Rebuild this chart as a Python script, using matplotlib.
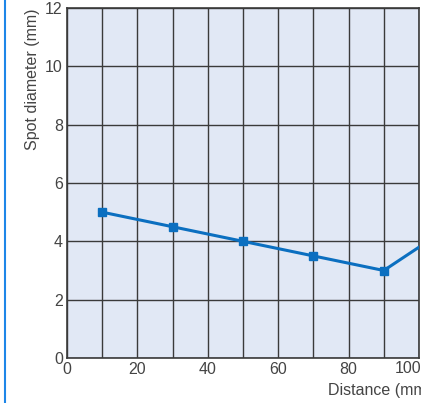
import matplotlib
matplotlib.use("Agg")
import matplotlib.pyplot as plt
from matplotlib.lines import Line2D

distance = [10, 30, 50, 70, 90, 110]
spot = [5.0, 4.5, 4.0, 3.5, 3.0, 4.6]
x_ticks = [0, 20, 40, 60, 80, 100]
y_ticks = [0, 2, 4, 6, 8, 10, 12]

plt.rcParams['font.family'] = ['Liberation Sans', 'DejaVu Sans']
W, H = 421, 403
fig = plt.figure(figsize=(W/100, H/100), dpi=100)
ax = fig.add_axes([67/W, 1-358/H, (419-67)/W, (358-8)/H])
ax.set_facecolor('#e1e8f5')
ax.set_xlim(0, 100)
ax.set_ylim(0, 12)
ax.set_xticks(x_ticks)
ax.set_xticklabels([str(v) for v in x_ticks[:-1]] + [''])
ax.set_xticks(range(0, 101, 10), minor=True)
ax.set_yticks(y_ticks)
ax.grid(True, which='both', color='#3a3a3a', linewidth=1.0)
ax.set_axisbelow(True)
ax.tick_params(which='both', length=0, labelsize=11.5, colors='#444444', pad=3)
for s in ax.spines.values():
    s.set_color('#3a3a3a')
    s.set_linewidth(1.2)
ax.annotate(str(x_ticks[-1]), xy=(x_ticks[-1], 0), xycoords=('data', 'axes fraction'),
            xytext=(1.5, -2.2), textcoords='offset points', ha='right', va='top',
            fontsize=11.5, color='#444444', annotation_clip=False)
ax.plot(distance, spot, color='#0b6fc0', linewidth=2.2, marker='s', markersize=5.5,
        zorder=3, clip_on=True)
ax.set_ylabel('Spot diameter (mm)', fontsize=11.5, color='#444444', labelpad=4, loc='top')
fig.text(328/W, 1-391/H, 'Distance (mm)', fontsize=11.5, color='#444444', ha='left', va='center')
fig.add_artist(Line2D([4.5/W, 4.5/W], [0, 1], color='#1e86e8', linewidth=1.5))
fig.savefig('out.png', dpi=100)
